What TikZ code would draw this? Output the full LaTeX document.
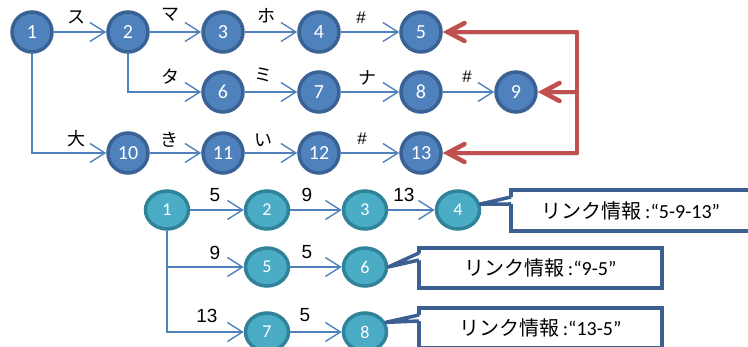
\documentclass[tikz,border=0pt]{standalone}
\usepackage{fontspec}
\setmainfont{Carlito}
\newfontfamily\cjk{Noto Sans CJK JP}
\newfontfamily\arialf{Liberation Sans}
\usetikzlibrary{arrows.meta}
\usetikzlibrary{shapes.geometric}
\definecolor{nodeblue}{HTML}{4F81BD}
\definecolor{rimblue}{HTML}{3A6295}
\definecolor{nodeaqua}{HTML}{4BACC6}
\definecolor{rimaqua}{HTML}{31839A}
\definecolor{linkred}{HTML}{C0504D}
\definecolor{boxblue}{HTML}{3C5F91}

\begin{document}
\begin{tikzpicture}[x=1pt,y=-1pt,
    topnode/.style={circle,draw=rimblue,fill=nodeblue,line width=3.5pt,
      minimum size=40pt,inner sep=0pt,text=white,font=\fontsize{20}{20}\selectfont},
    botnode/.style={ellipse,draw=rimaqua,fill=nodeaqua,line width=3.5pt,
      minimum width=43pt,minimum height=38pt,inner sep=0pt,text=white,
      font=\fontsize{18}{18}\selectfont},
    flow/.style={draw=nodeblue,line width=1.4pt,
      >={Straight Barb[length=15pt,width=19pt]},->},
    back/.style={draw=linkred,line width=4.5pt,line join=round,line cap=round,
      >={Straight Barb[length=17pt,width=18pt,line cap=round]},
      preaction={draw=black!40,opacity=0.3,transform canvas={shift={(1.5pt,-2pt)}}}},
    kana/.style={font=\fontsize{18}{18}\selectfont\cjk},
    hash/.style={font=\fontsize{17}{17}\selectfont\arialf},
    num/.style={font=\fontsize{19}{19}\selectfont\arialf},
    linkbox/.style={draw=boxblue,fill=white,line width=3.5pt,outer sep=0pt,
      inner sep=0pt,font=\fontsize{20}{20}\selectfont},
    pointer/.style={draw=boxblue,line width=3.5pt,line join=round}]
    \useasboundingbox (0,0) rectangle (748,347);

    % upper graph
    \node[topnode] (t1) at (32,32) {1};
    \node[topnode] (t2) at (128,32) {2};
    \node[topnode] (t3) at (223,32) {3};
    \node[topnode] (t4) at (319,32) {4};
    \node[topnode] (t5) at (421,32) {5};
    \node[topnode] (t6) at (223,92) {6};
    \node[topnode] (t7) at (319,92) {7};
    \node[topnode] (t8) at (421,92) {8};
    \node[topnode] (t9) at (516,92) {9};
    \node[topnode] (t10) at (128,153) {10};
    \node[topnode] (t11) at (223,153) {11};
    \node[topnode] (t12) at (319,153) {12};
    \node[topnode] (t13) at (421,153) {13};

    \draw[flow] (t1) -- (t2);
    \draw[flow] (t2) -- (t3);
    \draw[flow] (t3) -- (t4);
    \draw[flow] (t4) -- (t5);
    \draw[flow] (t2) |- (t6);
    \draw[flow] (t6) -- (t7);
    \draw[flow] (t7) -- (t8);
    \draw[flow] (t8) -- (t9);
    \draw[flow] (t1) |- (t10);
    \draw[flow] (t10) -- (t11);
    \draw[flow] (t11) -- (t12);
    \draw[flow] (t12) -- (t13);

    \node[kana] (k12) at (76,17) {ス};
    \node[kana] (k23) at (170,15) {マ};
    \node[kana] (k34) at (266,16) {ホ};
    \node[hash] (k45) at (361,18) {\#};
    \node[kana] (k26) at (170,77) {タ};
    \node[kana] (k67) at (263,75) {ミ};
    \node[kana] (k78) at (367,78) {ナ};
    \node[hash] (k89) at (467,77) {\#};
    \node[kana] (k110) at (76,139) {大};
    \node[kana] (k1011) at (169,140) {き};
    \node[kana] (k1112) at (263,140) {い};
    \node[hash] (k1213) at (362,139) {\#};

    % shared tails
    \coordinate (r5) at (577,32);
    \coordinate (r9) at (577,92);
    \coordinate (r13) at (577,153);
    \draw[back,<->] (t5) -- (r5) -- (r13) -- (t13);
    \draw[back,->] (r9) -- (t9);

    % lower graph
    \node[botnode] (b1) at (167,210) {1};
    \node[botnode] (b2) at (267,210) {2};
    \node[botnode] (b3) at (365,210) {3};
    \node[botnode] (b4) at (458,210) {4};
    \node[botnode] (b5) at (267,267) {5};
    \node[botnode] (b6) at (365,267) {6};
    \node[botnode] (b7) at (267,332) {7};
    \node[botnode] (b8) at (365,332) {8};

    \draw[flow] (b1) -- (b2);
    \draw[flow] (b2) -- (b3);
    \draw[flow] (b3) -- (b4);
    \draw[flow] (b1) |- (b5);
    \draw[flow] (b5) -- (b6);
    \draw[flow] (b1) |- (b7);
    \draw[flow] (b7) -- (b8);

    \node[num] (n12) at (215,195) {5};
    \node[num] (n23) at (307,195) {9};
    \node[num] (n34) at (404,195) {13};
    \node[num] (n15) at (215,253) {9};
    \node[num] (n56) at (307,252) {5};
    \node[num] (n17) at (207,316) {13};
    \node[num] (n78) at (305,315) {5};

    % link info
    \node[linkbox,minimum width=240pt,minimum height=41pt] (lk1) at (631,210.5)
      {{\cjk リンク情報}\,:“5-9-13”};
    \node[linkbox,minimum width=243pt,minimum height=40pt] (lk2) at (540.5,268)
      {{\cjk リンク情報}\,:“9-5”};
    \node[linkbox,minimum width=243pt,minimum height=40pt] (lk3) at (540.5,328)
      {{\cjk リンク情報}\,:“13-5”};

    \fill[white] ([shift={(2.5pt,-7pt)}]lk1.north west) -- (b4.15)
      -- ([shift={(2.5pt,-14pt)}]lk1.north west) -- cycle;
    \draw[pointer] ([yshift=-7pt]lk1.north west) -- (b4.15)
      -- ([yshift=-14pt]lk1.north west);
    \fill[white] ([shift={(2.5pt,-5pt)}]lk2.north west) -- (b6.east)
      -- ([shift={(2.5pt,-12pt)}]lk2.north west) -- cycle;
    \draw[pointer] ([yshift=-5pt]lk2.north west) -- (b6.east)
      -- ([yshift=-12pt]lk2.north west);
    \fill[white] ([shift={(2.5pt,-7pt)}]lk3.north west) -- (b8.25)
      -- ([shift={(2.5pt,-13pt)}]lk3.north west) -- cycle;
    \draw[pointer] ([yshift=-7pt]lk3.north west) -- (b8.25)
      -- ([yshift=-13pt]lk3.north west);
  \end{tikzpicture}
\end{document}
